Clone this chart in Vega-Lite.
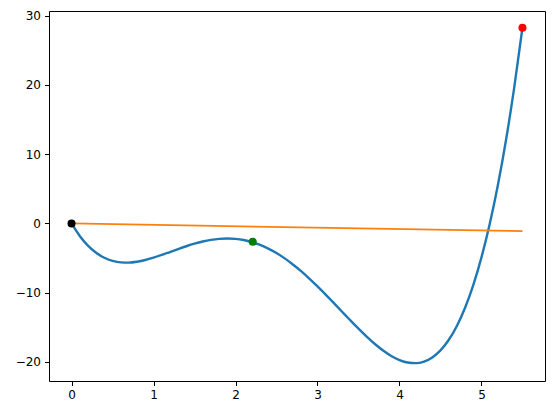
{
  "$schema": "https://vega.github.io/schema/vega-lite/v6.json",
  "autosize": {"type": "none"},
  "padding": {"left": 49, "top": 11, "right": 9, "bottom": 33},
  "width": 496,
  "height": 370,
  "background": "white",
  "config": {
    "view": {"stroke": "black", "strokeWidth": 1},
    "axis": {
      "grid": false,
      "domain": false,
      "tickColor": "black",
      "tickSize": 4.5,
      "tickWidth": 1,
      "labelFont": "DejaVu Sans",
      "labelFontSize": 12,
      "labelColor": "black",
      "labelPadding": 4,
      "title": null
    }
  },
  "datasets": {
    "curve": [
      {"x": 0.0, "y": 0.0}, {"x": 0.1, "y": -1.806}, {"x": 0.2, "y": -3.203}, {"x": 0.3, "y": -4.239},
      {"x": 0.4, "y": -4.959}, {"x": 0.5, "y": -5.407}, {"x": 0.6, "y": -5.625}, {"x": 0.7, "y": -5.652},
      {"x": 0.8, "y": -5.524}, {"x": 0.9, "y": -5.277}, {"x": 1.0, "y": -4.943}, {"x": 1.1, "y": -4.551},
      {"x": 1.2, "y": -4.128}, {"x": 1.3, "y": -3.702}, {"x": 1.4, "y": -3.293}, {"x": 1.5, "y": -2.923},
      {"x": 1.6, "y": -2.611}, {"x": 1.7, "y": -2.372}, {"x": 1.8, "y": -2.221}, {"x": 1.9, "y": -2.168},
      {"x": 2.0, "y": -2.223}, {"x": 2.1, "y": -2.393}, {"x": 2.2, "y": -2.683}, {"x": 2.3, "y": -3.094},
      {"x": 2.4, "y": -3.626}, {"x": 2.5, "y": -4.278}, {"x": 2.6, "y": -5.044}, {"x": 2.7, "y": -5.918},
      {"x": 2.8, "y": -6.891}, {"x": 2.9, "y": -7.95}, {"x": 3.0, "y": -9.082}, {"x": 3.1, "y": -10.271},
      {"x": 3.2, "y": -11.499}, {"x": 3.3, "y": -12.744}, {"x": 3.4, "y": -13.983}, {"x": 3.5, "y": -15.192},
      {"x": 3.6, "y": -16.334}, {"x": 3.7, "y": -17.403}, {"x": 3.8, "y": -18.343}, {"x": 3.9, "y": -19.128},
      {"x": 4.0, "y": -19.721}, {"x": 4.1, "y": -20.082}, {"x": 4.2, "y": -20.17}, {"x": 4.3, "y": -19.94},
      {"x": 4.4, "y": -19.34}, {"x": 4.5, "y": -18.32}, {"x": 4.6, "y": -16.83}, {"x": 4.7, "y": -14.8},
      {"x": 4.8, "y": -12.18}, {"x": 4.9, "y": -8.9}, {"x": 5.0, "y": -4.9}, {"x": 5.1, "y": -0.12},
      {"x": 5.2, "y": 5.51}, {"x": 5.3, "y": 12.08}, {"x": 5.4, "y": 19.64}, {"x": 5.5, "y": 28.27}
    ],
    "line": [
      {"x": 0.0, "y": 0.0}, {"x": 5.5, "y": -1.1}
    ],
    "points": [
      {"x": 0.0, "y": 0.0, "c": "black"},
      {"x": 2.21, "y": -2.65, "c": "green"},
      {"x": 5.5, "y": 28.27, "c": "red"}
    ]
  },
  "encoding": {
    "x": {"field": "x", "type": "quantitative",
      "scale": {"domain": [-0.275, 5.775], "nice": false, "zero": false},
      "axis": {"values": [0, 1, 2, 3, 4, 5], "format": "d"}},
    "y": {"field": "y", "type": "quantitative",
      "scale": {"domain": [-22.75, 30.68], "nice": false, "zero": false},
      "axis": {"values": [-20, -10, 0, 10, 20, 30], "format": "d"}}
  },
  "layer": [
    {"data": {"name": "curve"}, "mark": {"type": "line", "color": "#1f77b4", "strokeWidth": 2.4, "interpolate": "monotone"}},
    {"data": {"name": "line"}, "mark": {"type": "line", "color": "#ff7f0e", "strokeWidth": 1.8}},
    {"data": {"name": "points"}, "mark": {"type": "point", "filled": true, "opacity": 1, "size": 65},
      "encoding": {"color": {"field": "c", "type": "nominal", "scale": null, "legend": null}}}
  ]
}
